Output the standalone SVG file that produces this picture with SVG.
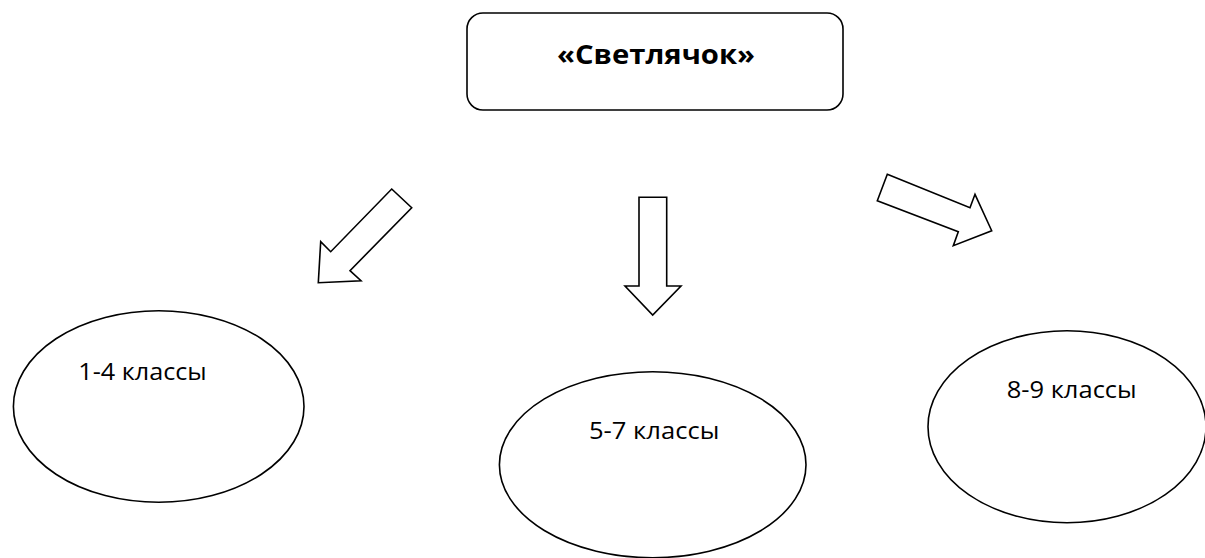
<svg xmlns="http://www.w3.org/2000/svg" width="1205" height="558" viewBox="0 0 1205 558">
<style>
.shape{fill:#fff;stroke:#000;stroke-width:1.6;stroke-linejoin:miter}
.lbl{font-family:"Open Sans","Liberation Sans",sans-serif;font-size:23px;fill:#000}
.title{font-family:"Open Sans","Liberation Sans",sans-serif;font-size:26px;font-weight:bold;fill:#000}
</style>
<rect width="1205" height="558" fill="#fff"/>
<g id="title-node">
<rect class="shape" x="467" y="13" width="376" height="97" rx="16" ry="16"/>
<text class="title" x="557" y="64" textLength="198" lengthAdjust="spacingAndGlyphs">«Светлячок»</text>
</g>
<g id="connectors">
<polygon class="shape" points="391.7,189 411.7,207.7 350,270.7 361,280.7 318.3,282.7 320.7,241.7 330.7,251.7"/>
<polygon class="shape" points="639,197.3 666.7,197.3 666.7,286 681,286 652.7,315 625,286 639,286"/>
<polygon class="shape" points="887.3,174.3 970,207.7 975,194.3 991.7,230.7 953.3,245.7 958.3,231.7 877.3,200.7"/>
</g>
<g id="node-1-4">
<ellipse class="shape" cx="158.7" cy="406.5" rx="145.3" ry="95.8"/>
<text class="lbl" x="78.3" y="380" textLength="128.4" lengthAdjust="spacingAndGlyphs">1-4 классы</text>
</g>
<g id="node-5-7">
<ellipse class="shape" cx="652.7" cy="464.7" rx="153.3" ry="93"/>
<text class="lbl" x="589" y="439" textLength="130.3" lengthAdjust="spacingAndGlyphs">5-7 классы</text>
</g>
<g id="node-8-9">
<ellipse class="shape" cx="1067" cy="426.7" rx="139" ry="96"/>
<text class="lbl" x="1006.7" y="398" textLength="130" lengthAdjust="spacingAndGlyphs">8-9 классы</text>
</g>
</svg>
